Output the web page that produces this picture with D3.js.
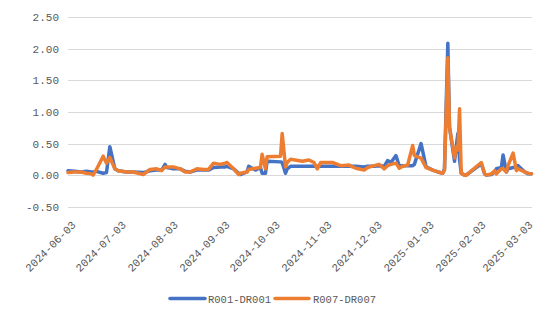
<!DOCTYPE html>
<html>
<head>
<meta charset="utf-8">
<script src="https://cdn.jsdelivr.net/npm/d3@7"></script>
<style>
  html, body { margin: 0; padding: 0; background: #ffffff; }
  svg { display: block; }
  text { font-family: "Liberation Mono", "DejaVu Sans Mono", monospace; fill: #595959; }
</style>
</head>
<body>
<svg id="chart" width="550" height="321"></svg>
<script>
const dates = [
  "2024-06-03","2024-06-07","2024-06-11","2024-06-14","2024-06-17","2024-06-18","2024-06-20","2024-06-24","2024-06-26","2024-06-28",
  "2024-07-01","2024-07-03","2024-07-08","2024-07-12","2024-07-18","2024-07-22","2024-07-26","2024-07-29","2024-07-31",
  "2024-08-01","2024-08-05","2024-08-09","2024-08-12","2024-08-15","2024-08-19","2024-08-23","2024-08-26","2024-08-29",
  "2024-09-02","2024-09-05","2024-09-06","2024-09-10","2024-09-13","2024-09-14","2024-09-18","2024-09-19","2024-09-23","2024-09-26","2024-09-27","2024-09-29","2024-09-30",
  "2024-10-08","2024-10-09","2024-10-11","2024-10-12","2024-10-14","2024-10-21","2024-10-25","2024-10-28","2024-10-30",
  "2024-11-01","2024-11-06","2024-11-08","2024-11-13","2024-11-18","2024-11-20","2024-11-22","2024-11-27","2024-11-29",
  "2024-12-03","2024-12-06","2024-12-09","2024-12-11","2024-12-13","2024-12-16","2024-12-18","2024-12-20","2024-12-23","2024-12-26","2024-12-27","2024-12-31",
  "2025-01-03","2025-01-07","2025-01-10","2025-01-13","2025-01-14","2025-01-16","2025-01-17","2025-01-20","2025-01-21","2025-01-22","2025-01-23","2025-01-24","2025-01-26","2025-01-27",
  "2025-02-05","2025-02-07","2025-02-08","2025-02-11","2025-02-13","2025-02-14","2025-02-17","2025-02-18","2025-02-20","2025-02-21","2025-02-24","2025-02-26","2025-02-27",
  "2025-03-03","2025-03-05","2025-03-07"
];
const r001 = [
  0.07,0.06,0.05,0.06,0.05,0.05,0.06,0.03,0.04,0.45,
  0.10,0.07,0.05,0.05,0.04,0.07,0.08,0.08,0.17,
  0.12,0.10,0.10,0.06,0.05,0.08,0.08,0.08,0.12,
  0.13,0.13,0.14,0.10,0.03,0.01,0.05,0.14,0.08,0.12,0.03,0.03,0.22,
  0.21,0.20,0.03,0.10,0.14,0.14,0.14,0.14,0.14,
  0.14,0.14,0.14,0.14,0.14,0.14,0.14,0.13,0.14,
  0.14,0.15,0.14,0.23,0.20,0.31,0.14,0.15,0.15,0.15,0.17,0.50,
  0.13,0.08,0.05,0.03,0.10,2.09,0.76,0.22,0.45,0.66,0.25,0.03,0.00,0.00,
  0.18,0.02,0.00,0.01,0.05,0.10,0.12,0.32,0.05,0.10,0.12,0.12,0.15,
  0.05,0.02,0.02
];
const r007 = [
  0.04,0.05,0.05,0.03,0.02,0.00,0.09,0.30,0.19,0.28,
  0.10,0.07,0.05,0.05,0.01,0.09,0.10,0.07,0.13,
  0.13,0.13,0.10,0.05,0.05,0.10,0.09,0.09,0.19,
  0.17,0.19,0.20,0.10,0.01,0.03,0.05,0.09,0.11,0.12,0.33,0.10,0.29,
  0.30,0.66,0.13,0.20,0.25,0.22,0.24,0.20,0.10,
  0.20,0.20,0.20,0.15,0.16,0.13,0.11,0.08,0.12,
  0.15,0.17,0.10,0.15,0.17,0.19,0.11,0.14,0.16,0.47,0.31,0.27,
  0.12,0.08,0.05,0.03,0.08,1.86,0.76,0.27,0.45,0.40,1.05,0.03,0.00,0.00,
  0.20,0.02,0.00,0.02,0.07,0.02,0.10,0.10,0.05,0.15,0.35,0.07,0.10,
  0.05,0.03,0.02
];
const seriesNames = ["R001-DR001", "R007-DR007"];
const seriesColors = ["#4472C4", "#ED7D31"];
const yTicks = [-0.5, 0, 0.5, 1.0, 1.5, 2.0, 2.5];
const xTickLabels = ["2024-06-03","2024-07-03","2024-08-03","2024-09-03","2024-10-03","2024-11-03","2024-12-03","2025-01-03","2025-02-03","2025-03-03"];

const parse = d3.timeParse("%Y-%m-%d");
const svg = d3.select("#chart");

const plot = { left: 68, right: 531.5, top: 17.3, bottom: 206.7 };
const x = d3.scaleTime()
  .domain([parse(dates[0]), parse(dates[dates.length - 1])])
  .range([plot.left, plot.right]);
const y = d3.scaleLinear().domain([-0.5, 2.5]).range([plot.bottom, plot.top]);

// gridlines
svg.append("g").selectAll("line").data(yTicks).join("line")
  .attr("x1", plot.left).attr("x2", plot.right + 0.5)
  .attr("y1", d => Math.round(y(d)) + 0.5).attr("y2", d => Math.round(y(d)) + 0.5)
  .attr("stroke", "#d9d9d9").attr("stroke-width", 1);

// y axis labels
const yAxis = d3.axisLeft(y).tickValues(yTicks).tickFormat(d => d3.format(".2f")(d).replace("−", "-")).tickSize(0).tickPadding(0);
const ya = svg.append("g").attr("transform", "translate(59,0)").call(yAxis);
ya.select(".domain").remove();
ya.selectAll("text").attr("font-size", 11).attr("fill", "#595959")
  .style("font-family", '"Liberation Mono", monospace');

// x axis labels
const xAxis = d3.axisBottom(x).tickValues(xTickLabels.map(parse)).tickFormat(d3.timeFormat("%Y-%m-%d")).tickSize(0).tickPadding(0);
const xa = svg.append("g").attr("transform", `translate(0,${plot.bottom})`).call(xAxis);
xa.select(".domain").remove();
xa.selectAll("text")
  .attr("font-size", 11).attr("fill", "#595959")
  .attr("text-anchor", "end")
  .attr("dy", 0).attr("y", 0)
  .attr("transform", "translate(8,19) rotate(-45)")
  .style("font-family", '"Liberation Mono", monospace');

// lines
const allSeries = [r001, r007];
const line = d3.line()
  .x((d, i) => x(parse(dates[i])))
  .y(d => y(d));
svg.append("g").selectAll("path").data(allSeries).join("path")
  .attr("d", d => line(d))
  .attr("fill", "none")
  .attr("stroke", (d, i) => seriesColors[i])
  .attr("stroke-width", 3.5)
  .attr("stroke-linejoin", "round")
  .attr("stroke-linecap", "round");

// legend
const legendItems = [
  { name: seriesNames[0], color: seriesColors[0], x1: 170, x2: 205, tx: 208 },
  { name: seriesNames[1], color: seriesColors[1], x1: 275, x2: 309, tx: 313 }
];
const lg = svg.append("g");
lg.selectAll("line").data(legendItems).join("line")
  .attr("x1", d => d.x1).attr("x2", d => d.x2)
  .attr("y1", 298.5).attr("y2", 298.5)
  .attr("stroke", d => d.color).attr("stroke-width", 3.5).attr("stroke-linecap", "round");
lg.selectAll("text").data(legendItems).join("text")
  .attr("x", d => d.tx).attr("y", 302.5)
  .attr("font-size", 10.5).attr("fill", "#595959")
  .text(d => d.name);
</script>
</body>
</html>
